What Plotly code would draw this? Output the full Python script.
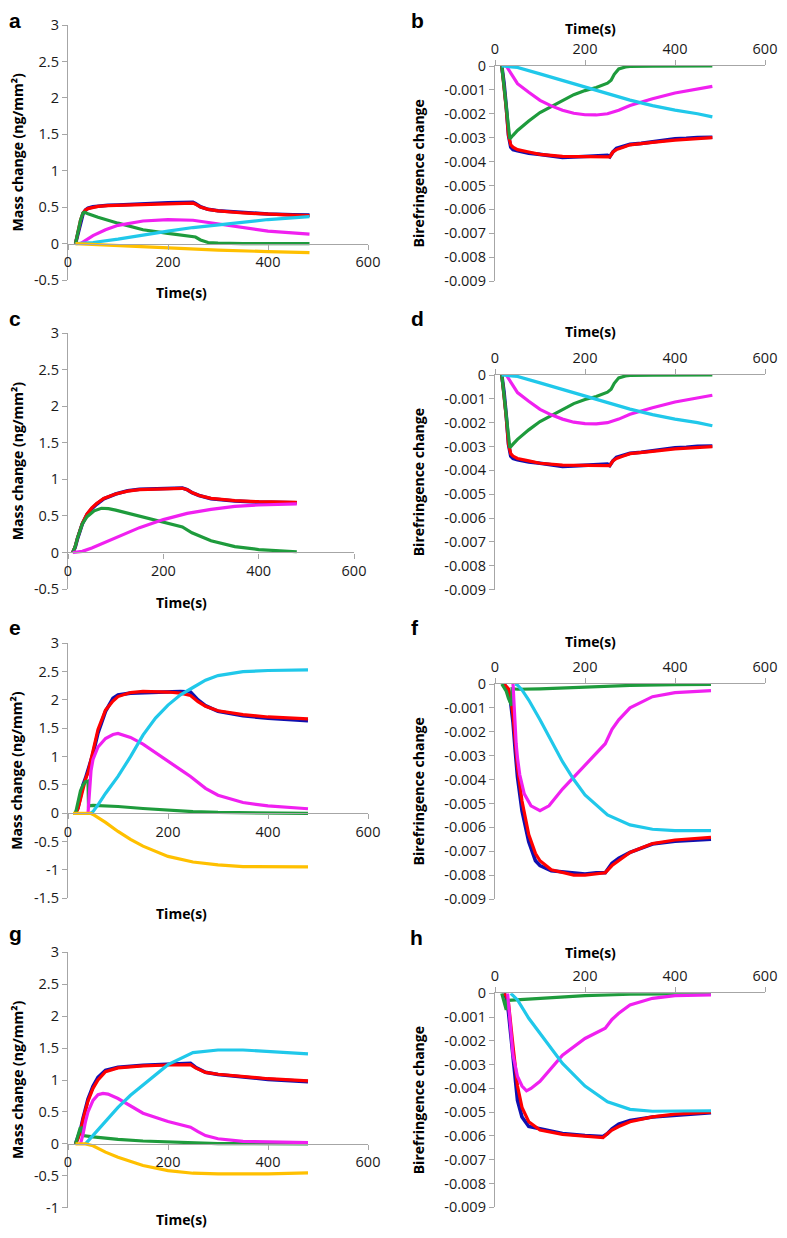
import plotly.graph_objects as go

# ---------------- DATA ----------------
x_tick_vals = [0, 200, 400, 600]
x_tick_text = ["0", "200", "400", "600"]
mass_tick_vals = [-1.5, -1, -0.5, 0, 0.5, 1, 1.5, 2, 2.5, 3]
mass_tick_text = ["-1.5", "-1", "-0.5", "0", "0.5", "1", "1.5", "2", "2.5", "3"]
bir_tick_vals = [-0.009, -0.008, -0.007, -0.006, -0.005, -0.004, -0.003, -0.002, -0.001, 0]
bir_tick_text = ["-0.009", "-0.008", "-0.007", "-0.006", "-0.005", "-0.004", "-0.003", "-0.002", "-0.001", "0"]

# Panel a (mass)
a_red_t = [15, 20, 25, 30, 35, 40, 50, 60, 80, 100, 150, 200, 250, 255, 265, 280, 300, 350, 400, 450, 483]
a_red_v = [0, 0.15, 0.32, 0.42, 0.46, 0.48, 0.50, 0.51, 0.52, 0.525, 0.54, 0.55, 0.555, 0.54, 0.50, 0.47, 0.45, 0.42, 0.40, 0.39, 0.385]
a_blue_t = a_red_t
a_blue_v = [0, 0.14, 0.30, 0.41, 0.46, 0.485, 0.505, 0.515, 0.525, 0.53, 0.55, 0.56, 0.565, 0.55, 0.505, 0.47, 0.45, 0.425, 0.405, 0.395, 0.39]
a_green_t = [15, 20, 25, 30, 33, 40, 60, 100, 150, 200, 250, 255, 265, 280, 300, 350, 483]
a_green_v = [0, 0.15, 0.32, 0.42, 0.43, 0.41, 0.36, 0.28, 0.19, 0.14, 0.10, 0.09, 0.05, 0.015, 0.005, 0, 0]
a_mag_t = [25, 35, 50, 75, 100, 150, 200, 250, 300, 350, 400, 483]
a_mag_v = [0, 0.04, 0.11, 0.19, 0.25, 0.31, 0.33, 0.32, 0.27, 0.21, 0.17, 0.13]
a_cyan_t = [15, 50, 100, 150, 200, 250, 300, 350, 400, 483]
a_cyan_v = [0, 0.015, 0.06, 0.12, 0.17, 0.22, 0.26, 0.30, 0.33, 0.37]
a_orange_t = [15, 100, 200, 300, 400, 483]
a_orange_v = [0, -0.03, -0.06, -0.09, -0.11, -0.125]

# Panel b (birefringence) -- panel d shows the same curves
b_red_t = [15, 20, 25, 30, 35, 40, 50, 75, 100, 150, 200, 250, 255, 262, 270, 285, 300, 350, 400, 483]
b_red_v = [0, -0.0008, -0.0018, -0.0029, -0.0033, -0.0034, -0.0035, -0.0036, -0.0037, -0.00378, -0.0038, -0.0038, -0.0038, -0.0036, -0.0035, -0.0034, -0.0033, -0.0032, -0.0031, -0.0030]
b_blue_t = [15, 20, 25, 30, 35, 40, 50, 75, 100, 125, 150, 175, 200, 225, 250, 255, 262, 270, 285, 300, 325, 350, 375, 400, 425, 450, 483]
b_blue_v = [0, -0.0007, -0.0017, -0.0029, -0.0034, -0.0035, -0.00355, -0.00365, -0.0037, -0.00376, -0.00383, -0.00381, -0.00378, -0.00376, -0.00374, -0.0038, -0.0036, -0.00345, -0.00338, -0.00328, -0.00324, -0.00318, -0.00312, -0.00305, -0.00303, -0.00299, -0.00298]
b_green_t = [15, 20, 25, 30, 33, 40, 50, 75, 100, 125, 150, 175, 200, 225, 250, 258, 265, 275, 290, 300, 350, 483]
b_green_v = [0, -0.0009, -0.0019, -0.0028, -0.00305, -0.0029, -0.0027, -0.0023, -0.00195, -0.0017, -0.00145, -0.0012, -0.00103, -0.0009, -0.00072, -0.0006, -0.00035, -0.00012, -0.00004, -0.00002, -0.00001, 0]
b_mag_t = [25, 35, 50, 75, 100, 125, 150, 175, 200, 225, 250, 275, 300, 350, 400, 483]
b_mag_v = [0, -0.0003, -0.00074, -0.0011, -0.00144, -0.00167, -0.00185, -0.00198, -0.00204, -0.00205, -0.0020, -0.00185, -0.00165, -0.00137, -0.00113, -0.00085]
b_cyan_t = [15, 50, 100, 150, 200, 250, 300, 350, 400, 450, 483]
b_cyan_v = [0, -0.00006, -0.00033, -0.0006, -0.00087, -0.00116, -0.00143, -0.00166, -0.00185, -0.0020, -0.00213]

# Panel c (mass)
c_red_t = [10, 15, 20, 25, 30, 40, 50, 60, 75, 100, 125, 150, 200, 240, 250, 260, 275, 300, 350, 400, 480]
c_red_v = [0, 0.08, 0.2, 0.31, 0.4, 0.53, 0.61, 0.67, 0.74, 0.8, 0.84, 0.86, 0.875, 0.878, 0.86, 0.82, 0.78, 0.74, 0.71, 0.695, 0.685]
c_blue_t = c_red_t
c_blue_v = [0, 0.07, 0.19, 0.3, 0.39, 0.52, 0.6, 0.66, 0.735, 0.8, 0.845, 0.865, 0.88, 0.882, 0.86, 0.82, 0.78, 0.735, 0.705, 0.69, 0.68]
c_green_t = [10, 15, 20, 25, 30, 40, 55, 70, 85, 100, 150, 200, 240, 260, 300, 350, 400, 480]
c_green_v = [0, 0.08, 0.2, 0.31, 0.39, 0.49, 0.57, 0.605, 0.6, 0.58, 0.5, 0.42, 0.35, 0.27, 0.16, 0.08, 0.04, 0.01]
c_mag_t = [10, 20, 30, 50, 75, 100, 150, 200, 250, 300, 350, 400, 480]
c_mag_v = [0, 0.003, 0.015, 0.06, 0.13, 0.2, 0.34, 0.45, 0.535, 0.59, 0.63, 0.65, 0.665]

# Panel e (mass)
e_red_t = [15, 20, 25, 30, 35, 40, 45, 50, 60, 75, 90, 100, 125, 150, 175, 200, 225, 245, 260, 275, 300, 350, 400, 480]
e_red_v = [0, 0.08, 0.25, 0.45, 0.6, 0.72, 0.9, 1.1, 1.48, 1.82, 1.98, 2.06, 2.13, 2.15, 2.15, 2.14, 2.12, 2.08, 1.97, 1.89, 1.81, 1.74, 1.70, 1.665]
e_blue_t = e_red_t
e_blue_v = [0, 0.1, 0.3, 0.5, 0.62, 0.75, 0.88, 1.05, 1.42, 1.8, 2.03, 2.09, 2.12, 2.13, 2.14, 2.15, 2.15, 2.14, 2.0, 1.9, 1.8, 1.72, 1.68, 1.635]
e_green_t = [15, 20, 25, 30, 35, 40, 41, 50, 100, 150, 200, 250, 300, 400, 480]
e_green_v = [0, 0.2, 0.4, 0.5, 0.56, 0.57, 0.13, 0.14, 0.12, 0.085, 0.055, 0.03, 0.015, 0.005, 0]
e_mag_t = [40, 41, 43, 46, 50, 60, 75, 90, 100, 125, 150, 200, 230, 245, 275, 300, 350, 400, 480]
e_mag_v = [0, 0.15, 0.45, 0.75, 0.95, 1.17, 1.32, 1.39, 1.41, 1.34, 1.22, 0.91, 0.74, 0.65, 0.44, 0.32, 0.19, 0.13, 0.08]
e_cyan_t = [45, 50, 60, 75, 100, 125, 150, 175, 200, 225, 250, 275, 300, 350, 400, 480]
e_cyan_v = [0, 0.03, 0.15, 0.35, 0.65, 1.0, 1.38, 1.68, 1.91, 2.09, 2.22, 2.35, 2.43, 2.5, 2.52, 2.53]
e_orange_t = [10, 45, 50, 75, 100, 125, 150, 200, 250, 300, 350, 480]
e_orange_v = [0, 0, -0.02, -0.16, -0.32, -0.46, -0.58, -0.76, -0.86, -0.91, -0.94, -0.945]

# Panel f (birefringence)
f_red_t = [20, 30, 35, 40, 45, 50, 60, 75, 90, 100, 125, 150, 175, 200, 225, 245, 260, 275, 300, 350, 400, 480]
f_red_v = [0, -0.0002, -0.0006, -0.0013, -0.0024, -0.0035, -0.0049, -0.0063, -0.0071, -0.0074, -0.00778, -0.0079, -0.0080, -0.0080, -0.00796, -0.0079, -0.0076, -0.0074, -0.00705, -0.00668, -0.00653, -0.00642]
f_blue_t = f_red_t
f_blue_v = [0, -0.0003, -0.0008, -0.0016, -0.0028, -0.0039, -0.0053, -0.0066, -0.0074, -0.0076, -0.00782, -0.00787, -0.0079, -0.00795, -0.0079, -0.0079, -0.0075, -0.0073, -0.00705, -0.0067, -0.00658, -0.0065]
f_green_t = [15, 25, 30, 35, 37, 38, 50, 100, 200, 300, 400, 480]
f_green_v = [0, -0.0003, -0.0006, -0.00085, -0.0009, -0.0002, -0.00022, -0.0002, -0.00012, -0.00006, -0.00003, -0.00002]
f_mag_t = [40, 42, 44, 47, 50, 55, 65, 80, 100, 120, 150, 175, 200, 245, 260, 275, 300, 350, 400, 480]
f_mag_v = [0, -0.0008, -0.0016, -0.0025, -0.0031, -0.0038, -0.0046, -0.0051, -0.0053, -0.0051, -0.0044, -0.0039, -0.0034, -0.0025, -0.0019, -0.0015, -0.0010, -0.00053, -0.00036, -0.00028]
f_cyan_t = [45, 50, 60, 75, 100, 125, 150, 175, 200, 250, 300, 350, 400, 480]
f_cyan_v = [0, -0.00005, -0.00025, -0.00067, -0.0015, -0.0024, -0.00325, -0.0040, -0.00464, -0.00548, -0.0059, -0.00608, -0.00614, -0.00614]

# Panel g (mass)
g_red_t = [15, 20, 25, 30, 40, 50, 60, 75, 100, 150, 200, 245, 255, 275, 300, 350, 400, 480]
g_red_v = [0, 0.08, 0.2, 0.38, 0.67, 0.87, 1.0, 1.13, 1.19, 1.22, 1.235, 1.24, 1.19, 1.12, 1.09, 1.05, 1.02, 0.985]
g_blue_t = g_red_t
g_blue_v = [0, 0.1, 0.22, 0.4, 0.7, 0.9, 1.04, 1.15, 1.2, 1.23, 1.25, 1.26, 1.2, 1.12, 1.085, 1.045, 1.01, 0.975]
g_green_t = [15, 20, 24, 27, 30, 50, 100, 150, 200, 250, 300, 480]
g_green_v = [0, 0.12, 0.24, 0.25, 0.13, 0.11, 0.07, 0.045, 0.03, 0.012, 0.004, 0]
g_mag_t = [25, 30, 35, 40, 50, 60, 70, 80, 100, 125, 150, 200, 245, 260, 275, 300, 350, 400, 480]
g_mag_v = [0, 0.15, 0.35, 0.5, 0.68, 0.77, 0.79, 0.78, 0.71, 0.6, 0.48, 0.35, 0.26, 0.19, 0.13, 0.08, 0.04, 0.03, 0.02]
g_cyan_t = [35, 50, 75, 100, 125, 150, 200, 250, 300, 350, 400, 480]
g_cyan_v = [0, 0.13, 0.34, 0.57, 0.76, 0.92, 1.24, 1.43, 1.47, 1.47, 1.45, 1.41]
g_orange_t = [15, 35, 50, 75, 100, 150, 200, 250, 300, 400, 480]
g_orange_v = [0, 0, -0.03, -0.13, -0.21, -0.34, -0.42, -0.46, -0.47, -0.47, -0.455]

# Panel h (birefringence)
h_red_t = [20, 25, 30, 35, 40, 50, 60, 75, 100, 150, 200, 240, 250, 260, 275, 300, 350, 400, 480]
h_red_v = [0, -0.0001, -0.0004, -0.0012, -0.0022, -0.0039, -0.0048, -0.0054, -0.00575, -0.00593, -0.0060, -0.00607, -0.0059, -0.00575, -0.0056, -0.0054, -0.0052, -0.00508, -0.0050]
h_blue_t = h_red_t
h_blue_v = [0, -0.0002, -0.0008, -0.0018, -0.0028, -0.0045, -0.0052, -0.0056, -0.0057, -0.0059, -0.00598, -0.00602, -0.0059, -0.0057, -0.0055, -0.00535, -0.0052, -0.00512, -0.00502]
h_green_t = [15, 20, 25, 27, 50, 100, 200, 300, 480]
h_green_v = [0, -0.0004, -0.0007, -0.0003, -0.00027, -0.0002, -0.0001, -0.00004, -0.00001]
h_mag_t = [28, 32, 36, 40, 50, 60, 70, 80, 100, 150, 200, 245, 260, 275, 300, 350, 400, 480]
h_mag_v = [0, -0.0008, -0.0018, -0.0026, -0.0035, -0.0039, -0.0041, -0.0040, -0.0037, -0.0026, -0.0019, -0.00147, -0.0011, -0.00084, -0.00049, -0.00021, -0.0001, -0.00007]
h_cyan_t = [35, 50, 75, 100, 125, 150, 200, 250, 300, 350, 480]
h_cyan_v = [0, -0.00028, -0.00105, -0.00168, -0.0023, -0.00295, -0.0039, -0.00456, -0.00488, -0.00496, -0.00494]

# ---------------- STYLE / LAYOUT ----------------
PAGE_W, PAGE_H = 787, 1238
OFF = 8  # default page body margin
W, H = PAGE_W - OFF, PAGE_H - 2 * OFF
RX1 = 765  # right edge of right-hand panels (keeps the "600" label on screen)
COL = {"blue": "#1010B0", "red": "#FF0000", "green": "#1E9B3C",
       "mag": "#F020F0", "cyan": "#20C8EA", "orange": "#FFC000"}
AXCOL = "#A6A6A6"
FONT = "Open Sans"

def fx(px):
    return (px - OFF) / W

def fy(py):
    return 1 - (py - OFF) / H

panels = [
    ("a", "mass", 68, 368, 25, 280, (-0.5, 3),
     [("blue", a_blue_t, a_blue_v), ("red", a_red_t, a_red_v), ("green", a_green_t, a_green_v),
      ("mag", a_mag_t, a_mag_v), ("cyan", a_cyan_t, a_cyan_v), ("orange", a_orange_t, a_orange_v)],
     (15, 20), (181, 293)),
    ("b", "bir", 495, RX1, 66, 281, (-0.009, 0),
     [("blue", b_blue_t, b_blue_v), ("red", b_red_t, b_red_v), ("green", b_green_t, b_green_v),
      ("mag", b_mag_t, b_mag_v), ("cyan", b_cyan_t, b_cyan_v)],
     (417, 20), (590, 29)),
    ("c", "mass", 68, 354, 333.3, 589, (-0.5, 3),
     [("blue", c_blue_t, c_blue_v), ("red", c_red_t, c_red_v), ("green", c_green_t, c_green_v),
      ("mag", c_mag_t, c_mag_v)],
     (15, 318), (181, 602)),
    ("d", "bir", 495, RX1, 375, 589.6, (-0.009, 0),
     [("blue", b_blue_t, b_blue_v), ("red", b_red_t, b_red_v), ("green", b_green_t, b_green_v),
      ("mag", b_mag_t, b_mag_v), ("cyan", b_cyan_t, b_cyan_v)],
     (417, 318), (590, 332)),
    ("e", "mass", 68, 368, 643.3, 898.3, (-1.5, 3),
     [("blue", e_blue_t, e_blue_v), ("red", e_red_t, e_red_v), ("green", e_green_t, e_green_v),
      ("mag", e_mag_t, e_mag_v), ("cyan", e_cyan_t, e_cyan_v), ("orange", e_orange_t, e_orange_v)],
     (15, 627), (181, 913)),
    ("f", "bir", 495, RX1, 684, 899, (-0.009, 0),
     [("blue", f_blue_t, f_blue_v), ("red", f_red_t, f_red_v), ("green", f_green_t, f_green_v),
      ("mag", f_mag_t, f_mag_v), ("cyan", f_cyan_t, f_cyan_v)],
     (415, 627), (590, 641)),
    ("g", "mass", 68, 368, 952.3, 1207.7, (-1, 3),
     [("blue", g_blue_t, g_blue_v), ("red", g_red_t, g_red_v), ("green", g_green_t, g_green_v),
      ("mag", g_mag_t, g_mag_v), ("cyan", g_cyan_t, g_cyan_v), ("orange", g_orange_t, g_orange_v)],
     (15, 933), (181, 1219)),
    ("h", "bir", 495, RX1, 993.3, 1207.3, (-0.009, 0),
     [("blue", h_blue_t, h_blue_v), ("red", h_red_t, h_red_v), ("green", h_green_t, h_green_v),
      ("mag", h_mag_t, h_mag_v), ("cyan", h_cyan_t, h_cyan_v)],
     (416, 937), (590, 952)),
]

fig = go.Figure()
annotations = []
layout = {}
tickfont = dict(family=FONT, size=14.5, color="#1a1a1a")
titlefont = dict(family=FONT, size=14, color="#000000")

common = dict(showline=True, linecolor=AXCOL, linewidth=1.3,
              ticks="outside", ticklen=5, tickcolor=AXCOL, tickwidth=1.3,
              showgrid=False, zeroline=False, tickfont=tickfont, automargin=False,
              fixedrange=True)

for i, (lab, kind, x0, x1, ytop, ybot, yr, series, labpos, tpos) in enumerate(panels):
    n = i + 1
    xa = "x" if n == 1 else f"x{n}"
    ya = "y" if n == 1 else f"y{n}"
    xkey = "xaxis" if n == 1 else f"xaxis{n}"
    ykey = "yaxis" if n == 1 else f"yaxis{n}"
    ydom = [fy(ybot), fy(ytop)]
    for cname, t, v in series:
        fig.add_trace(go.Scatter(x=t, y=v, mode="lines", xaxis=xa, yaxis=ya,
                                 line=dict(color=COL[cname], width=3.6 if cname == "blue" else 3.2),
                                 showlegend=False, hoverinfo="skip", cliponaxis=False))
    if kind == "mass":
        zero_pos = ydom[0] + (0 - yr[0]) / (yr[1] - yr[0]) * (ydom[1] - ydom[0])
        layout[xkey] = dict(domain=[fx(x0), fx(x1)], range=[0, 600], anchor="free",
                            position=zero_pos, tickvals=x_tick_vals, ticktext=x_tick_text,
                            **common)
        tv = [v for v in mass_tick_vals if yr[0] - 1e-9 <= v <= yr[1] + 1e-9]
        tt = [mass_tick_text[mass_tick_vals.index(v)] for v in tv]
        layout[ykey] = dict(domain=ydom, range=list(yr), anchor=xa,
                            tickvals=tv, ticktext=tt, **common)
        ytitle = "Mass change (ng/mm²)"
        ytx = 17
    else:
        layout[xkey] = dict(domain=[fx(x0), fx(x1)], range=[0, 600], anchor=ya, side="top",
                            tickvals=x_tick_vals, ticktext=x_tick_text, **common)
        layout[ykey] = dict(domain=ydom, range=list(yr), anchor=xa,
                            tickvals=bir_tick_vals, ticktext=bir_tick_text, **common)
        ytitle = "Birefringence change"
        ytx = 418
    annotations.append(dict(text=f"<b>{lab}</b>", x=fx(labpos[0]), y=fy(labpos[1]),
                            xref="paper", yref="paper", showarrow=False,
                            xanchor="center", yanchor="middle",
                            font=dict(family="Liberation Sans", size=21, color="#000")))
    annotations.append(dict(text="<b>Time(s)</b>", x=fx(tpos[0]), y=fy(tpos[1]),
                            xref="paper", yref="paper", showarrow=False,
                            xanchor="center", yanchor="middle", font=titlefont))
    annotations.append(dict(text=f"<b>{ytitle}</b>", x=fx(ytx), y=(ydom[0] + ydom[1]) / 2,
                            xref="paper", yref="paper", showarrow=False, textangle=-90,
                            xanchor="center", yanchor="middle", font=titlefont))

fig.update_layout(width=W, height=H, margin=dict(l=0, r=0, t=0, b=0, autoexpand=False),
                  paper_bgcolor="white", plot_bgcolor="white",
                  annotations=annotations, **layout)

fig.write_html("out.html")
